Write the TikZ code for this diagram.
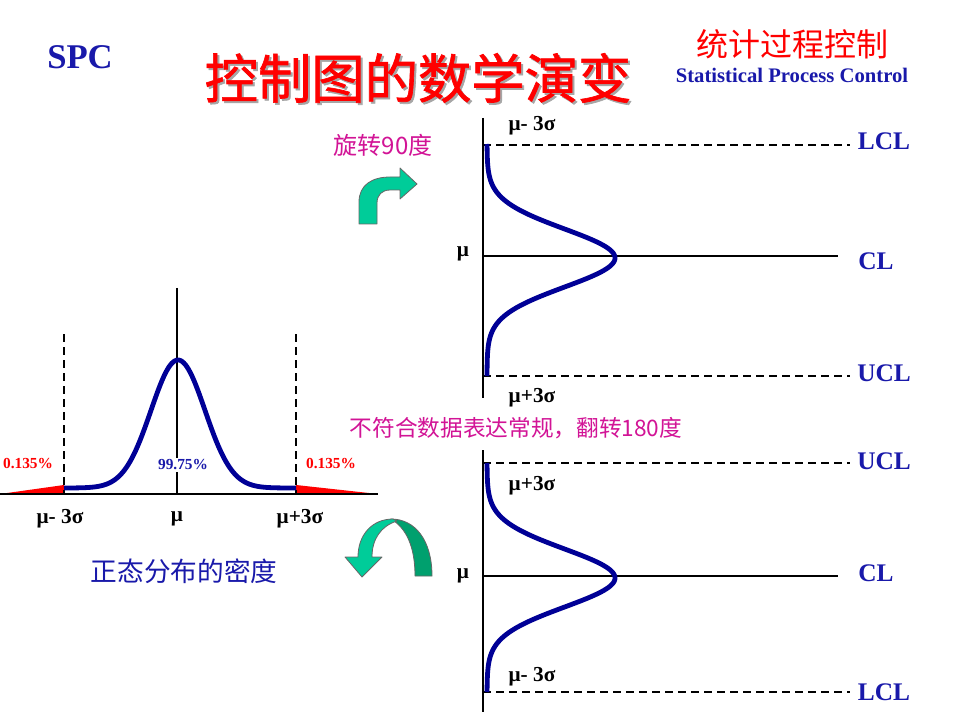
\documentclass[tikz,border=0pt]{standalone}
\usepackage{fontspec}
\setmainfont{Liberation Serif}
\newfontfamily\cjk{Noto Sans CJK SC}
\newfontfamily\cjktitle[FakeBold=1.2]{Noto Sans CJK SC}
\definecolor{tblue}{RGB}{25,25,170}
\definecolor{cblue}{RGB}{0,0,150}
\definecolor{mag}{RGB}{210,20,150}
\definecolor{glight}{RGB}{0,204,153}
\definecolor{gdark}{RGB}{0,160,110}
\tikzset{
  axisline/.style={line width=1.5pt, black},
  dline/.style={line width=1.5pt, dash pattern=on 6pt off 3.75pt},
  bell/.style={line width=3.6pt, cblue, line join=round},
  lab/.style={inner sep=0pt, font=\bfseries\fontsize{16}{18}\selectfont},
  lim/.style={inner sep=0pt, text=tblue, font=\bfseries\fontsize{19}{22}\selectfont},
  pct/.style={inner sep=0pt, font=\bfseries\fontsize{11.5}{13}\selectfont},
  garrow/.style={draw=black!60, line width=0.6pt, line join=round},
  cjktxt/.style={inner sep=0pt, font=\cjk\fontsize{#1}{#1}\selectfont},
  titletxt/.style={inner sep=0pt, font=\cjktitle\fontsize{40}{40}\selectfont},
}
\begin{document}
\begin{tikzpicture}[x=0.75pt,y=-0.75pt]
\useasboundingbox (0,0) rectangle (960,720);
\fill[white] (0,0) rectangle (960,720);

% ---------- headings ----------
\node[inner sep=0pt, text=tblue, font=\bfseries\fontsize{26}{30}\selectfont] (spc) at (80,57) {SPC};
\node[titletxt, text=black!35] (titleshadow) at (420,80) {控制图的数学演变};
\node[titletxt, text=red] (title) at (418,78) {控制图的数学演变};
\node[cjktxt=24, text=red] (subcn) at (792,44) {统计过程控制};
\node[inner sep=0pt, text=tblue, font=\bfseries\fontsize{15.5}{18}\selectfont] (suben) at (792,75) {Statistical Process Control};

% ---------- left: normal density ----------
\coordinate (hl) at (0,494);
\coordinate (hr) at (378,494);
\coordinate (vt) at (177,288);
\coordinate (vb) at (177,494);
\fill[red] (0,494) -- (64,485) -- (64,494) -- cycle;
\fill[red] (296,485) -- (378,494) -- (296,494) -- cycle;
\draw[axisline] (hl) -- (hr);
\draw[axisline] (vt) -- (vb);
\draw[dline] (64,334) -- (64,494);
\draw[dline] (296,334) -- (296,494);
\draw[bell] plot[domain=64:296, samples=150] (\x,{488-128*exp(-((\x-178)^2)/1458)});
\node[pct, text=red] (pl) at (28,464) {0.135\%};
\node[pct, text=tblue, fill=white, inner xsep=0pt, inner ysep=1pt] (pc) at (183,465) {99.75\%};
\node[pct, text=red] (pr) at (331,464) {0.135\%};
\node[lab] (m1) at (60,519) {μ- 3σ};
\node[lab] (m2) at (177,519) {μ};
\node[lab] (m3) at (300,519) {μ+3σ};
\node[cjktxt=20, text=tblue] (dens) at (184,571) {正态分布的密度};

% ---------- arrows ----------
\node[cjktxt=18, text=mag] (rot) at (383,145) {旋转90度};
\draw[garrow, fill=glight] (359,224) -- (359,202) .. controls (359,185) and (372,177) .. (390,177)
  -- (400,177) -- (400,168) -- (417,184) -- (400,199) -- (400,190) -- (390,190)
  .. controls (382,190) and (377,195) .. (377,203) -- (377,224) -- cycle;
\node[cjktxt=17, text=mag] (flip) at (516,428) {不符合数据表达常规，翻转180度};
\draw[garrow, fill=gdark] (391,519) .. controls (415,519) and (432,540) .. (432,576)
  -- (415,576) .. controls (415,546) and (406,528) .. (391,519) -- cycle;
\draw[garrow, fill=glight] (393,519) .. controls (372,519) and (358,535) .. (358,557)
  -- (345,557) -- (362,577) -- (382,557) -- (372,557)
  .. controls (372,539) and (381,526) .. (397,521) -- cycle;

% ---------- top control chart ----------
\draw[axisline] (483,118) -- (483,398);
\draw[axisline] (483,256) -- (838,256);
\draw[dline] (483,145) -- (850,145);
\draw[dline] (483,376) -- (850,376);
\draw[bell] plot[domain=144:376, samples=150] ({487+128*exp(-((\x-258)^2)/1682)},\x);
\node[lab] (t1) at (532,126) {μ- 3σ};
\node[lab] (t2) at (532,398) {μ+3σ};
\node[lab] (t3) at (463,254) {μ};
\node[lim] (lcl1) at (884,141) {LCL};
\node[lim] (cl1) at (876,261) {CL};
\node[lim] (ucl1) at (884,373) {UCL};

% ---------- bottom control chart ----------
\draw[axisline] (483,450) -- (483,712);
\draw[axisline] (483,576) -- (838,576);
\draw[dline] (483,463) -- (850,463);
\draw[dline] (483,692) -- (850,692);
\draw[bell] plot[domain=463:692, samples=150] ({487+128*exp(-((\x-578)^2)/1682)},\x);
\node[lab] (b1) at (532,486) {μ+3σ};
\node[lab] (b2) at (532,677) {μ- 3σ};
\node[lab] (b3) at (463,576) {μ};
\node[lim] (ucl2) at (884,461) {UCL};
\node[lim] (cl2) at (876,573) {CL};
\node[lim] (lcl2) at (884,692) {LCL};
\end{tikzpicture}
\end{document}
